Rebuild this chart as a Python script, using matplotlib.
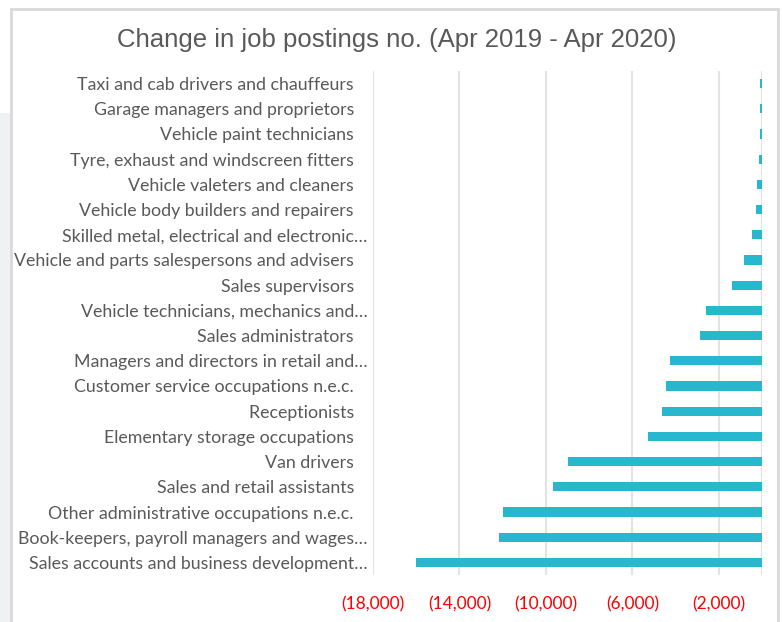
import numpy as np
import matplotlib.pyplot as plt
from matplotlib.patches import Rectangle

# data (top to bottom)
occupations = [
    "Taxi and cab drivers and chauffeurs   ",
    "Garage managers and proprietors   ",
    "Vehicle paint technicians   ",
    "Tyre, exhaust and windscreen fitters   ",
    "Vehicle valeters and cleaners   ",
    "Vehicle body builders and repairers   ",
    "Skilled metal, electrical and electronic\u2026",
    "Vehicle and parts salespersons and advisers   ",
    "Sales supervisors   ",
    "Vehicle technicians, mechanics and\u2026",
    "Sales administrators   ",
    "Managers and directors in retail and\u2026",
    "Customer service occupations n.e.c.   ",
    "Receptionists   ",
    "Elementary storage occupations   ",
    "Van drivers   ",
    "Sales and retail assistants   ",
    "Other administrative occupations n.e.c.   ",
    "Book-keepers, payroll managers and wages\u2026",
    "Sales accounts and business development\u2026",
]
change = [-80, -80, -110, -120, -250, -300, -480, -820, -1390, -2580,
          -2870, -4250, -4430, -4610, -5280, -8980, -9690, -12000, -12160, -16000]

x_ticks = [-18000, -14000, -10000, -6000, -2000]
x_tick_labels = ["(18,000)", "(14,000)", "(10,000)", "(6,000)", "(2,000)"]

BAR_COLOR = "#27B8CE"
GRID_COLOR = "#E3E3E3"
TEXT_GRAY = "#595959"

fig = plt.figure(figsize=(7.82, 6.22), dpi=100)

# chart frame and the panel peeking in on the left
fig.patches.append(Rectangle((0, 0), 11 / 782, (622 - 113) / 622, transform=fig.transFigure,
                             facecolor="#EEF2F3", edgecolor="none", zorder=-3))
fig.patches.append(Rectangle((11 / 782, -0.05), (778 - 11) / 782, (622 - 9) / 622 + 0.05,
                             transform=fig.transFigure, facecolor="white",
                             edgecolor="#D9D9D9", linewidth=2, zorder=-2))

ax = fig.add_axes([373 / 782, 47 / 622, (762 - 373) / 782, (575 - 71) / 622])
ax.set_facecolor("none")
ax.set_zorder(2)

y = np.arange(len(occupations))
ax.barh(y, change, height=0.36, color=BAR_COLOR, zorder=3)

ax.set_xlim(-18000, 0)
ax.set_ylim(len(occupations) - 0.5, -0.5)
ax.set_xticks(x_ticks)
ax.set_xticklabels(x_tick_labels, color="red", fontsize=12.5, family="Lato")
ax.set_yticks(y)
ax.set_yticklabels(occupations, color=TEXT_GRAY, fontsize=12.8, family="Lato")
ax.tick_params(axis="both", length=0)
ax.tick_params(axis="x", pad=15)
ax.tick_params(axis="y", pad=4)

ax.grid(axis="x", color=GRID_COLOR, linewidth=1.5, zorder=0)
ax.axvline(0, color=GRID_COLOR, linewidth=1.5, zorder=1)
for s in ax.spines.values():
    s.set_visible(False)

fig.text(397 / 782, 1 - 40 / 622, "Change in job postings no. (Apr 2019 - Apr 2020)",
         ha="center", va="center", fontsize=18.5, color=TEXT_GRAY, family="Liberation Sans")

fig.savefig("out.png", dpi=100)
